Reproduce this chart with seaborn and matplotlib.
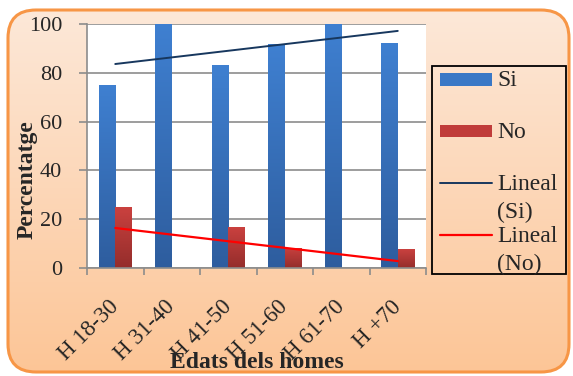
import matplotlib
matplotlib.use("Agg")
import matplotlib.pyplot as plt
import seaborn as sns
import numpy as np
import pandas as pd
from matplotlib.patches import FancyBboxPatch, Rectangle
from matplotlib.colors import LinearSegmentedColormap

# data
categories = ["H 18-30", "H 31-40", "H 41-50", "H 51-60", "H 61-70", "H +70"]
si_values = [75.0, 100.0, 83.3, 91.7, 100.0, 92.3]
no_values = [25.0, 0.0, 16.7, 8.3, 0.0, 7.7]

df = pd.DataFrame({
    "Edat": categories * 2,
    "Valor": si_values + no_values,
    "Resposta": ["Si"] * len(categories) + ["No"] * len(categories),
})

sns.set_theme(style="white")
plt.rcParams["font.family"] = ["Liberation Serif", "DejaVu Serif"]

fig = plt.figure(figsize=(5.73, 3.76), dpi=100)

# rounded peach background with gradient (pixel coordinates)
bg = fig.add_axes([0, 0, 1, 1], zorder=-10)
bg.set_xlim(0, 573)
bg.set_ylim(376, 0)
bg.axis("off")
grad = np.linspace(0, 1, 256).reshape(-1, 1)
bg_cmap = LinearSegmentedColormap.from_list("bg", ["#FDE9DA", "#FCC596"])
img = bg.imshow(grad, cmap=bg_cmap, aspect="auto", extent=[0, 573, 376, 0])
box = FancyBboxPatch((8, 10), 561, 362, boxstyle="round,pad=0,rounding_size=28",
                     facecolor="none", edgecolor="#F79646", linewidth=2.2)
bg.add_patch(box)
img.set_clip_path(box)

ax = fig.add_axes([87 / 573, 1 - 268 / 376, (426 - 87) / 573, (268 - 24) / 376])
sns.barplot(data=df, x="Edat", y="Valor", hue="Resposta", order=categories,
            hue_order=["Si", "No"], palette=["#3A78C6", "#C03C3A"],
            width=0.58, dodge=True, ax=ax, legend=False, errorbar=None,
            linewidth=0, saturation=1)

# gradient fill on bars (light at the top, dark at the base)
blue_cmap = LinearSegmentedColormap.from_list("b", ["#2E5D9E", "#3F80D1"])
red_cmap = LinearSegmentedColormap.from_list("r", ["#942D2B", "#CA413F"])
bars = list(ax.patches)
for i, p in enumerate(bars):
    h = p.get_height()
    if h <= 0:
        continue
    cm = blue_cmap if i < len(categories) else red_cmap
    x0 = p.get_x()
    w = p.get_width()
    im = ax.imshow(grad, cmap=cm, aspect="auto",
                   extent=[x0, x0 + w, 0, h], origin="lower", zorder=2)
    im.set_clip_path(p)
    p.set_alpha(0)

# linear trend lines
xs = np.arange(len(categories))
si_fit = np.polyval(np.polyfit(xs, si_values, 1), xs)
no_fit = np.polyval(np.polyfit(xs, no_values, 1), xs)
ax.plot(xs, si_fit, color="#17375E", lw=1.4, zorder=3)
ax.plot(xs, no_fit, color="#FF0000", lw=1.6, zorder=3)

ax.set_xlim(-0.5, len(categories) - 0.5)
ax.set_ylim(0, 100)
ax.set_facecolor("white")
ax.set_yticks([0, 20, 40, 60, 80, 100])
ax.yaxis.grid(True, color="#8C8C8C", lw=1.2)
ax.set_axisbelow(True)
for s in ["top", "right"]:
    ax.spines[s].set_visible(False)
for s in ["left", "bottom"]:
    ax.spines[s].set_color("#8C8C8C")
    ax.spines[s].set_linewidth(1.2)

ax.tick_params(axis="y", length=6, width=1.2, color="#8C8C8C", labelsize=16,
               pad=12, left=True)
ax.set_xticks(xs)
ax.set_xticks(np.arange(-0.5, len(categories)), minor=True)
ax.tick_params(axis="x", which="major", length=0, pad=26)
ax.tick_params(axis="x", which="minor", length=5, width=1.2, color="#8C8C8C",
               bottom=True)
ax.set_xticklabels(categories, rotation=45, ha="right", rotation_mode="anchor",
                   fontsize=16.5)
for lbl in ax.get_xticklabels():
    lbl.set_va("center")
    lbl.set_x(lbl.get_position()[0])
ax.set_xlabel("")
ax.set_ylabel("")

fig.text(257 / 573, 1 - 363 / 376, "Edats dels homes", ha="center", va="center",
         fontsize=17, fontweight="bold")
fig.text(27 / 573, 1 - 180 / 376, "Percentatge", ha="center", va="center",
         rotation=90, fontsize=17, fontweight="bold")

# legend drawn like the original (text overflows the frame at the bottom)
bg.add_patch(Rectangle((432, 66), 134, 208, facecolor="none",
                       edgecolor="black", lw=1.3, zorder=5))
bg.add_patch(Rectangle((440, 73), 52, 13, facecolor="#3A78C6", lw=0, zorder=5))
bg.add_patch(Rectangle((440, 125), 52, 12, facecolor="#C03C3A", lw=0, zorder=5))
bg.plot([440, 492], [183, 183], color="#17375E", lw=1.4, zorder=5)
bg.plot([440, 492], [235, 235], color="#FF0000", lw=1.6, zorder=5)
leg_font = dict(fontsize=17, ha="left", va="center", zorder=6,
                family=["Liberation Serif", "DejaVu Serif"])
bg.text(497, 81, "Si", **leg_font)
bg.text(497, 132, "No", **leg_font)
bg.text(497, 184, "Lineal", **leg_font)
bg.text(497, 212, "(Si)", **leg_font)
bg.text(497, 236, "Lineal", **leg_font)
bg.text(497, 264, "(No)", **leg_font)

fig.savefig("out.png", dpi=100)
